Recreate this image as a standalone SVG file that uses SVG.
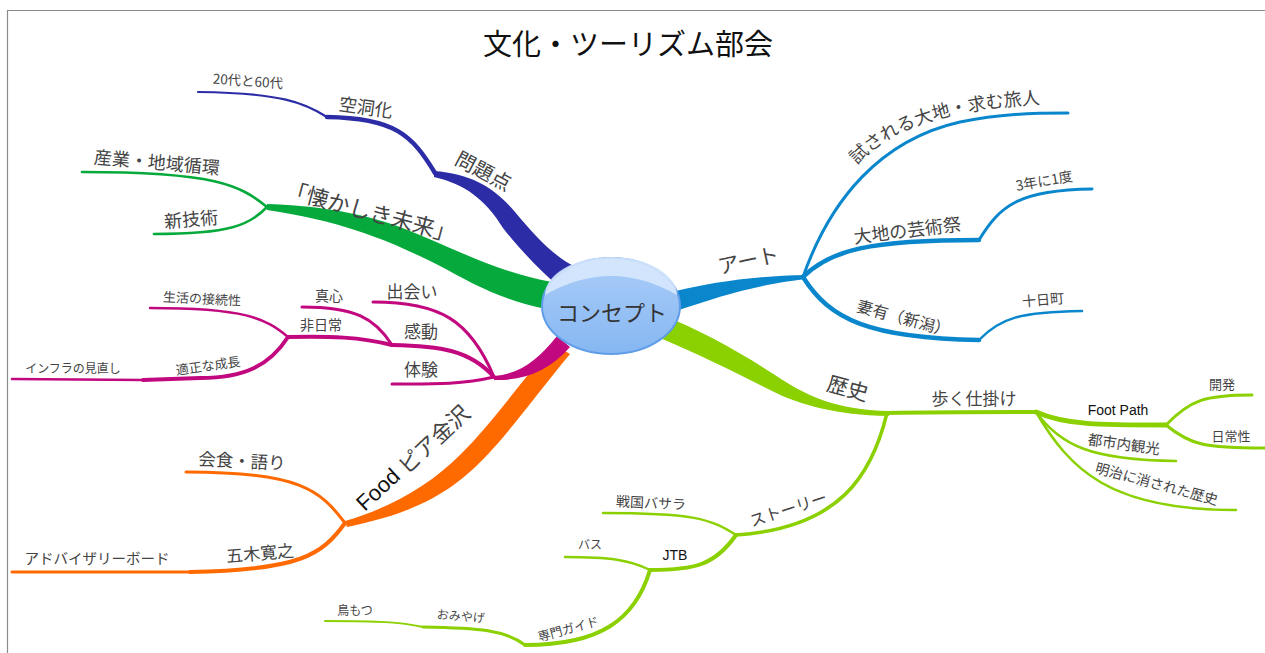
<svg xmlns="http://www.w3.org/2000/svg" width="1265" height="653" viewBox="0 0 1265 653">
<defs>
<style>
.t{font-family:"Noto Sans CJK JP","Noto Sans CJK SC",sans-serif;fill:#444;text-anchor:middle;dominant-baseline:central}
.s{font-family:"Liberation Sans",Arial,"Noto Sans CJK JP",sans-serif;fill:#111;text-anchor:middle;dominant-baseline:central}
.c{fill:none;stroke-linecap:round}
.b1{stroke:#2b2ca6}.g{stroke:#06a93c}.m{stroke:#c2087f}.o{stroke:#ff6a00}.b2{stroke:#0a87cc}.l{stroke:#8bd000}
</style>
<linearGradient id="eg" x1="0" y1="0" x2="0" y2="1">
<stop offset="0" stop-color="#aacdf8"/>
<stop offset="1" stop-color="#86b7f2"/>
</linearGradient>
</defs>
<rect width="1265" height="653" fill="#fff"/>
<path d="M7.5,653 L7.5,10.5 L1265,10.5" fill="none" stroke="#8a8a8a" stroke-width="1.2"/>
<g id="title"><text x="628" y="42" class="t" style="fill:#111" font-size="29">文化・ツーリズム部会</text></g>

<g id="connectors">
<!-- main tapered branches -->
<path d="M434,171 C472,174 495,188 515,212 C535,236 555,258 578,268 L560,288 C540,270 522,252 503,228 C486,200 465,184 434,177 Z" fill="#2b2ca6"/>
<path d="M267,204 C310,205 360,212 400,227 C450,246 495,272 552,282 L546,309 C500,300 470,282 440,266 C400,246 350,222 267,210 Z" fill="#06a93c"/>
<path d="M345,521 C390,508 430,485 460,455 C490,425 515,390 553,344 L570,354 C540,390 515,425 490,452 C455,490 420,512 347,527 Z" fill="#ff6a00"/>
<path d="M494,376 C520,374 538,360 557,336 L570,347 C550,370 525,381 494,380 Z" fill="#c2087f"/>
<path d="M676,291 C710,283 750,276 806,275 L806,279 C760,284 720,296 676,311 Z" fill="#0a87cc"/>
<path d="M662,315 C700,330 740,352 775,375 C805,395 835,410 889,411 L889,416 C835,415 800,405 770,390 C735,372 700,355 660,338 Z" fill="#8bd000"/>
<!-- blue -->
<path class="c b1" stroke-width="4.5" d="M435,173 C412,135 395,118 327,117"/>
<path class="c b1" stroke-width="2.2" d="M327,117 C305,103 282,93 198,92"/>
<!-- green -->
<path class="c g" stroke-width="2.6" d="M267,207 C240,185 215,172 82,172"/>
<path class="c g" stroke-width="2.6" d="M267,207 C250,225 230,234 154,234"/>
<!-- magenta -->
<path class="c m" stroke-width="3" d="M494,377 C470,320 440,302 373,302"/>
<path class="c m" stroke-width="4" d="M494,377 C470,350 440,346 392,345"/>
<path class="c m" stroke-width="3" d="M494,377 C460,385 430,384 392,384"/>
<path class="c m" stroke-width="4" d="M392,345 C360,337 330,336 288,337"/>
<path class="c m" stroke-width="3" d="M392,345 C375,318 355,307 302,307"/>
<path class="c m" stroke-width="2.5" d="M288,337 C265,318 245,308 150,308"/>
<path class="c m" stroke-width="4" d="M288,337 C270,365 245,378 200,378 L143,380"/>
<path class="c m" stroke-width="2.5" d="M143,380 L12,379"/>
<!-- orange -->
<path class="c o" stroke-width="3" d="M345,523 C320,490 300,472 186,472"/>
<path class="c o" stroke-width="4" d="M345,523 C322,555 300,570 190,572"/>
<path class="c o" stroke-width="3" d="M190,572 L12,572"/>
<!-- art blue -->
<path class="c b2" stroke-width="3" d="M803,277 C830,200 880,140 960,122 C1000,114 1030,113 1068,113"/>
<path class="c b2" stroke-width="4.5" d="M803,277 C830,250 870,240 979,240"/>
<path class="c b2" stroke-width="3" d="M979,240 C1000,205 1020,190 1092,189"/>
<path class="c b2" stroke-width="4.5" d="M803,277 C830,320 870,338 979,340"/>
<path class="c b2" stroke-width="2.5" d="M979,340 C1000,318 1020,312 1082,311"/>
<!-- lime -->
<path class="c l" stroke-width="4" d="M887,413 C940,412 990,412 1036,412"/>
<path class="c l" stroke-width="3.5" d="M887,413 C872,475 840,528 736,535"/>
<path class="c l" stroke-width="5" d="M1036,412 C1065,425 1100,425 1166,425"/>
<path class="c l" stroke-width="3" d="M1166,425 C1190,400 1205,395 1252,395"/>
<path class="c l" stroke-width="3" d="M1166,425 C1190,445 1205,448 1265,448"/>
<path class="c l" stroke-width="2.5" d="M1036,412 C1060,445 1090,460 1176,461"/>
<path class="c l" stroke-width="2.5" d="M1036,412 C1070,470 1110,510 1236,510"/>
<path class="c l" stroke-width="2.5" d="M736,535 C710,518 690,513 603,513"/>
<path class="c l" stroke-width="4" d="M736,535 C715,565 695,570 650,570"/>
<path class="c l" stroke-width="2.5" d="M650,570 C630,560 610,557 565,557"/>
<path class="c l" stroke-width="4" d="M650,570 C635,620 600,645 525,645"/>
<path class="c l" stroke-width="3" d="M525,645 C505,630 480,628 423,627"/>
<path class="c l" stroke-width="2" d="M423,627 C400,622 380,621 325,621"/>
</g>

<g id="center">
<ellipse cx="611" cy="306" rx="69" ry="48" fill="url(#eg)" stroke="#5f9de8" stroke-width="2"/>
<path d="M545,295 A66,38 0 0 1 677,295 Q611,257 545,295 Z" fill="#dbeafd" opacity="0.85"/>
<text x="612" y="311" class="t" style="fill:#333" font-size="22">コンセプト</text>
</g>

<g id="n-mondai"><text class="t" x="484" y="170" font-size="20" transform="rotate(28 484 170)">問題点</text></g>
<g id="n-kudo"><text class="t" x="366" y="106" font-size="18" transform="rotate(8 366 106)">空洞化</text></g>
<g id="n-2060"><text class="t" x="248" y="80" font-size="13.5" transform="rotate(4 248 80)">20代と60代</text></g>
<g id="n-natsukashiki"><text class="t" x="371" y="210" font-size="22" transform="rotate(15 371 210)">「懐かしき未来」</text></g>
<g id="n-sangyo"><text class="t" x="157" y="161" font-size="18" transform="rotate(5 157 161)">産業・地域循環</text></g>
<g id="n-shingijutsu"><text class="t" x="191" y="218" font-size="18" transform="rotate(-5 191 218)">新技術</text></g>
<g id="n-deai"><text class="t" x="412" y="290" font-size="17">出会い</text></g>
<g id="n-kando"><text class="t" x="421" y="330" font-size="17">感動</text></g>
<g id="n-taiken"><text class="t" x="421" y="368" font-size="17">体験</text></g>
<g id="n-magokoro"><text class="t" x="329" y="295" font-size="14">真心</text></g>
<g id="n-hinichijo"><text class="t" x="321" y="324" font-size="14">非日常</text></g>
<g id="n-seikatsu"><text class="t" x="202" y="298" font-size="13" transform="rotate(3 202 298)">生活の接続性</text></g>
<g id="n-tekisei"><text class="t" x="208" y="365" font-size="13" transform="rotate(-8 208 365)">適正な成長</text></g>
<g id="n-infra"><text class="t" x="73" y="367" font-size="12">インフラの見直し</text></g>
<g id="n-food"><text class="t" x="412" y="457" font-size="22" transform="rotate(-43 412 457)"><tspan style="font-family:'Liberation Sans',Arial,sans-serif;fill:#111">Food </tspan>ピア金沢</text></g>
<g id="n-kaishoku"><text class="t" x="242" y="460" font-size="17.5" transform="rotate(3 242 460)">会食・語り</text></g>
<g id="n-itsuki"><text class="t" x="260" y="552" font-size="17" transform="rotate(-5 260 552)">五木寛之</text></g>
<g id="n-advisory"><text class="t" x="97" y="557" font-size="14.5">アドバイザリーボード</text></g>
<g id="n-art"><text class="t" x="748" y="259" font-size="21" transform="rotate(-12 748 259)">アート</text></g>
<g id="n-tamesareru"><path id="p-tame" d="M857,165 C890,130 940,108 1058,103" fill="none"/><text class="t" font-size="18" style="dominant-baseline:auto;text-anchor:start"><textPath href="#p-tame">試される大地・求む旅人</textPath></text></g>
<g id="n-daichi"><text class="t" x="907" y="229" font-size="18" transform="rotate(-7 907 229)">大地の芸術祭</text></g>
<g id="n-3nen"><text class="t" x="1044" y="180" font-size="14" transform="rotate(-10 1044 180)">3年に1度</text></g>
<g id="n-tsumari"><text class="t" x="904" y="317" font-size="16" transform="rotate(15 904 317)">妻有（新潟）</text></g>
<g id="n-tokamachi"><text class="t" x="1043" y="299" font-size="14" transform="rotate(-5 1043 299)">十日町</text></g>
<g id="n-rekishi"><text class="t" x="848" y="387" font-size="21" transform="rotate(15 848 387)">歴史</text></g>
<g id="n-aruku"><text class="t" x="974" y="397" font-size="17">歩く仕掛け</text></g>
<g id="n-footpath"><text class="s" x="1118" y="410" font-size="14">Foot Path</text></g>
<g id="n-kaihatsu"><text class="t" x="1222" y="383" font-size="13">開発</text></g>
<g id="n-nichijo"><text class="t" x="1231" y="435" font-size="13">日常性</text></g>
<g id="n-toshinai"><text class="t" x="1124" y="443" font-size="14.5" transform="rotate(8 1124 443)">都市内観光</text></g>
<g id="n-meiji"><text class="t" x="1157" y="483" font-size="14" transform="rotate(15 1157 483)">明治に消された歴史</text></g>
<g id="n-story"><text class="t" x="788" y="508" font-size="16" transform="rotate(-18 788 508)">ストーリー</text></g>
<g id="n-sengoku"><text class="t" x="651" y="502" font-size="14" transform="rotate(3 651 502)">戦国バサラ</text></g>
<g id="n-jtb"><text class="s" x="675" y="555" font-size="14">JTB</text></g>
<g id="n-bus"><text class="t" x="590" y="543" font-size="12">バス</text></g>
<g id="n-senmon"><text class="t" x="568" y="628" font-size="12.5" transform="rotate(-15 568 628)">専門ガイド</text></g>
<g id="n-omiyage"><text class="t" x="461" y="615" font-size="12" transform="rotate(5 461 615)">おみやげ</text></g>
<g id="n-torimotsu"><text class="t" x="355" y="609" font-size="12">鳥もつ</text></g>
</svg>
